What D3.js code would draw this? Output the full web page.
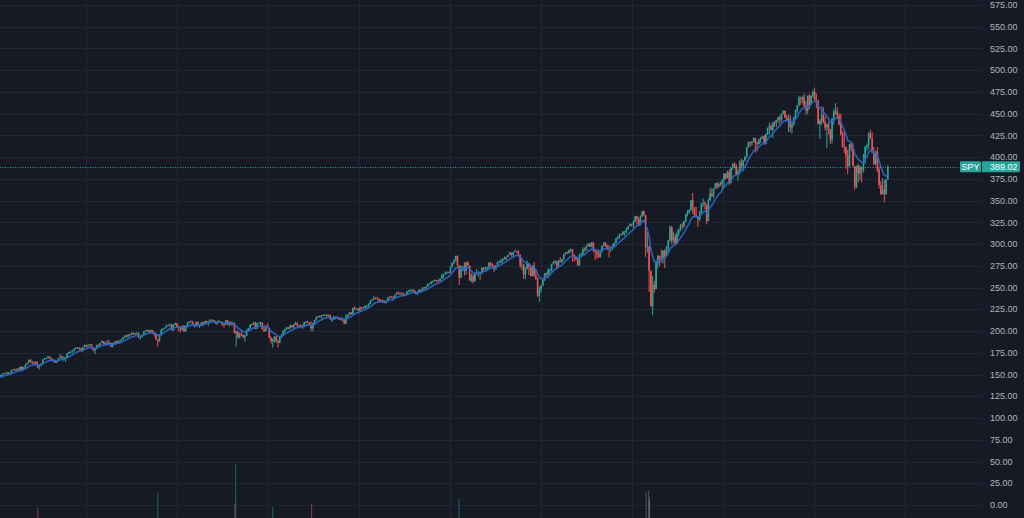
<!DOCTYPE html>
<html><head><meta charset="utf-8">
<script src="https://cdn.jsdelivr.net/npm/d3@7"></script>
<style>html,body{margin:0;padding:0;background:#161a25;overflow:hidden}</style>
</head><body><svg id="c" width="1024" height="518"></svg>
<script>
// ---------- DATA (SPY weekly) ----------
const symbol = "SPY";
const lastPrice = 389.02;
const firstWeek = "2013-01-04";   // Friday of first weekly bar
const firstOpen = 145.1;
const maPeriod = 10;              // moving-average length (weeks)
const priceTicks = d3.range(0, 576, 25);   // 0.00 … 575.00

const weekClose = [
// 2013
146.4,147.1,148.3,149.4,151.2,151.7,152.1,151.9,152.1,155.4,156.0,155.6,156.7,155.2,158.8,155.5,158.2,161.4,163.4,166.9,164.8,163.5,164.3,162.3,159.1,160.4,162.7,167.5,168.9,168.9,170.9,168.9,166.1,166.6,163.7,165.5,168.9,170.7,169.1,169.2,170.3,174.4,175.9,176.2,177.3,179.9,180.8,181.0,180.0,177.7,181.6,184.0,
// 2014
182.9,184.1,184.7,179.6,178.2,179.7,184.0,183.9,186.3,188.3,184.7,186.2,185.8,186.4,181.5,186.4,186.3,188.3,188.1,188.1,190.3,192.7,194.9,193.5,195.9,195.8,198.2,196.6,197.7,197.9,192.5,193.2,195.7,199.2,200.7,200.9,198.8,201.0,198.0,196.5,190.5,188.5,196.4,201.7,203.2,204.2,206.7,207.2,208.0,200.9,207.0,209.0,
// 2015
205.4,204.2,201.6,206.1,199.5,205.5,209.8,211.0,210.7,207.5,205.8,210.4,205.7,206.4,210.0,207.9,211.6,210.7,211.6,212.4,212.9,211.1,209.8,209.9,210.8,210.5,207.6,207.1,212.5,207.5,210.5,207.9,209.4,197.6,199.3,192.6,196.7,195.5,192.9,195.0,201.3,203.3,207.5,207.9,209.6,202.5,209.3,209.6,209.6,201.9,200.0,205.7,
// 2016
203.9,192.0,188.1,190.5,193.7,188.2,186.6,192.9,195.1,200.4,202.2,204.4,203.1,206.9,204.5,207.8,208.9,206.3,205.7,204.8,205.5,210.2,210.3,210.1,206.5,203.2,209.5,212.7,216.0,217.2,217.1,218.2,218.5,218.5,217.3,218.4,213.3,213.4,215.9,216.3,215.0,213.1,214.0,212.5,208.6,216.4,218.5,221.5,219.7,226.5,225.0,225.7,223.5,
// 2017
227.2,227.1,226.7,229.0,229.3,231.5,235.4,236.7,238.4,237.7,237.0,233.9,235.7,235.2,232.5,234.6,238.1,239.7,239.0,238.3,241.7,244.0,243.4,242.6,243.1,241.8,242.1,245.6,247.1,247.3,247.4,244.1,242.7,244.6,247.8,246.6,250.1,249.4,251.2,254.4,254.9,257.1,257.7,258.7,258.1,257.9,260.4,264.5,265.5,266.5,267.5,266.9,
// 2018
274.0,278.7,280.4,286.6,275.5,261.5,273.0,274.7,269.1,278.9,275.3,258.1,263.2,257.0,265.2,266.6,266.6,266.0,272.9,271.3,272.2,273.6,278.2,277.1,274.7,271.3,275.4,279.6,279.7,281.4,283.6,283.2,285.1,287.5,290.3,287.6,290.9,292.0,290.7,287.8,276.0,276.3,265.3,271.9,277.8,273.7,263.3,275.7,263.6,260.5,240.7,247.8,
// 2019
252.4,259.0,266.5,265.3,270.1,270.5,277.4,279.1,280.4,274.5,281.3,279.7,282.5,288.6,290.7,290.0,293.4,294.0,288.1,285.8,282.8,275.3,287.7,289.3,294.0,293.0,298.5,300.7,297.2,302.0,292.6,291.6,288.9,284.9,292.5,298.1,301.1,298.3,295.4,294.4,296.3,298.0,301.6,306.1,308.9,311.8,311.0,314.3,314.9,317.3,320.7,322.9,
// 2020
322.4,325.7,332.0,328.8,321.7,332.2,337.6,333.5,296.3,297.5,269.3,228.8,253.4,248.2,278.2,286.6,283.0,282.8,292.4,286.3,295.4,304.3,319.3,304.2,308.6,300.1,312.2,317.6,321.7,320.9,326.5,334.6,336.8,339.5,350.6,342.6,333.0,330.7,328.7,333.8,346.9,347.3,345.8,326.5,350.2,358.1,355.3,363.7,369.9,366.3,369.2,369.0,
// 2021
373.9,381.3,375.7,382.9,370.1,387.7,392.6,390.0,380.4,383.6,394.1,389.5,396.0,400.6,411.5,417.3,416.7,417.3,422.1,416.6,414.9,420.0,422.6,424.3,414.9,426.6,433.7,435.5,431.3,439.9,438.5,442.5,445.9,443.4,450.3,453.1,445.4,441.4,443.9,434.2,437.9,445.9,453.1,459.3,468.5,467.3,468.9,459.0,453.4,470.7,459.9,470.6,475.0,
// 2022
466.1,464.7,438.0,442.0,448.7,440.5,434.2,437.8,432.2,420.1,444.5,452.7,452.9,447.6,437.8,426.0,412.0,411.3,401.7,389.6,415.3,410.5,389.8,365.9,390.1,381.2,388.7,385.1,395.1,412.0,413.5,427.1,422.1,405.3,392.2,406.6,385.6,368.0,357.2,362.8,357.6,374.3,389.02
];

const weekHigh = [
// 2013
147,147.5,148.6,150,151.4,152,152.4,153.3,152.7,155.6,156.6,156.8,157,157.2,159,159.7,158.8,161.6,163.6,167,167.8,165.5,164.8,165.4,165.2,161.4,163,167.5,169.3,169.5,171,170.9,168.8,167.7,167,165.9,169,173.6,171.8,170.6,170.5,174.6,176.1,177.7,177.9,180,181.7,181.6,181.2,181,182,184.7,
// 2014
184.2,184.6,185.1,184.9,180.2,180.1,184.3,184.9,186.7,189.1,188,187,189.7,189.7,186.7,186.5,187.9,189.1,189.6,189.2,190.4,192.8,195.4,195.1,196.7,196.5,198.3,198.3,197.9,199.1,198,193.4,196.2,199.8,200.8,201.9,201.4,201.9,200.9,198.3,198.2,190.1,196.5,201.8,203.3,204.6,207.4,207.8,208.4,208.3,207.7,209.8,
// 2015
208.2,206.2,205.1,206.3,206.5,206.7,209.9,211.2,212.2,211.7,208.2,211,211.4,207,210.1,211,211.7,212.2,211.7,213.8,213.6,212.6,212.2,211.2,212.7,211.6,210.2,208.4,212.6,212.9,211.1,211.3,210.6,209.8,200.9,200.5,198.2,200.8,196.3,195.7,201.9,203.7,207.6,208.4,210.7,210.6,209.5,210.1,211,209.9,206.9,206.6,
// 2016
208.7,201.9,193.9,191.6,193.9,194.3,190.1,193.3,196.6,201.1,202.8,205.1,204.8,207.0,207.2,208.2,210.9,210.7,207.3,208,207.4,210.7,211.4,212,210.3,211.1,209.5,212.9,217,217.5,217.9,218.3,219.1,219.1,219.5,218.9,219.2,216.1,217.7,216.9,217.6,215.6,215.7,215.6,213.3,219.1,219.3,221.8,221.6,226.9,228.3,226.2,226.3,
// 2017
227.8,228,227.8,229.7,229.6,231.8,235.4,236.8,240.3,238.2,239.4,237.4,236.5,236.5,235.2,235.1,238.9,239.7,240.2,240.2,241.9,244.4,245.7,244.6,244.7,244.4,243.1,245.9,247.2,248,247.8,247.8,246.2,245.6,248.3,247.8,250.3,250.2,251.3,254.5,255.3,257.2,258.3,259.4,258.7,259.3,260.5,266.1,265.7,268.6,268.6,268.6,
// 2018
274.1,278.9,282.8,286.6,286.6,275.8,275.7,275,279.4,279,280.4,275.1,266.1,265.7,266,271.2,268.9,267.9,273,273.4,273.9,273.9,279.5,279.5,278.4,276.3,275.6,280,281.1,283.1,283.7,285.8,285.6,287.8,291.3,290.2,291,293.9,292,293.2,288.3,283.1,277.1,273.2,281.2,276.6,270.3,275.9,279.3,270.4,261.6,251,
// 2019
253.1,260,266.9,267.3,272,272,277.4,280.4,281.8,280.2,281.6,285.2,282.8,288.9,290.9,291.4,293.5,294.9,293.3,286.9,286.3,283.3,288.3,290.1,296.3,296.4,298.8,301.1,300.9,302.2,302.2,293.6,293.7,293.7,293.5,298.8,302.5,302.6,299.4,299,297.2,300,302.2,307.3,309,311.8,312,315,315.3,318.9,320.9,323.8,
// 2020
323.6,327.5,332,332.9,330.5,333,338,339.1,331,313.8,290.9,258.7,263.3,257.7,281.2,287.3,286.8,293.8,292.9,294.2,297.9,304.9,321.3,321,314.4,311.9,315.7,318,323,324.4,327,334.9,339,339.1,350.7,358.8,342.6,343.1,331.8,338.3,346.9,352.5,349.3,342.9,352.2,364.4,364.3,364.2,369.9,371.1,371.2,371.9,
// 2021
374.7,381.5,381.1,384.8,385.9,388.5,392.9,394.2,392.2,386.8,396.7,398.1,396.8,400.7,411.7,417.9,418.3,418.5,422.8,422.2,418.2,421.3,422.9,424.6,425.5,427.1,434.1,439.9,437.9,440.3,441.8,442.9,446.3,448.8,450.7,454,454,448.4,448.9,448.2,441.8,446.3,454.7,459.6,470.7,469.6,470.6,473.5,464.7,470.9,472.9,471,477.6,
// 2022
480,473.2,466,444,458.1,457.9,446.3,438.5,441.1,431.6,444.9,455.8,462.1,457.8,450.6,450,429.7,429.7,412.2,408.5,415.4,417.4,416.4,383.9,390.1,392.9,390.6,389,404,413,415.7,429,431.7,428.5,411.7,407.5,411.7,389.3,372.3,375.9,373.6,374.8,390.4
];

const weekLow = [
// 2013
144.7,145.7,146.5,148,148.6,150.4,151,149.3,150.8,152,154.8,154.2,154.2,153.6,154.8,153.6,155.6,157.4,161.6,163,163.9,162.4,160,161.9,157.4,155.7,159.3,162.5,167.2,167.6,168.5,167.9,165.8,164.8,163.3,163.3,165.4,168.9,168.4,165.5,164.5,169.5,173.6,174.4,174.6,176.6,179.2,179.2,178.5,177.2,176.4,181.6,
// 2014
181,181.3,183,179.3,176.7,173.7,179.1,182.5,182.6,186.2,184.6,183.9,184.4,184.6,181.3,181.7,184,184.9,186.3,185.9,187.9,189.7,192,192.6,193,194.6,195.1,195.7,195.4,196.8,192.4,190.2,192.6,195.6,198.6,199.5,197.8,197.4,197,193.8,189.6,181.9,187.8,194.3,200.6,202.4,204.1,206.2,204.3,200.8,200.3,206.9,
// 2015
204.4,199.3,198.6,200.8,199.3,199.8,204.8,208.4,209.9,207.1,203.8,204.9,205.5,203.5,205.7,205.6,208.3,208.4,206.4,209.6,212,211,208.2,206.9,209.5,209.9,206,204,207.3,206.9,205.6,206.1,206.6,197.4,182.4,191.8,191.6,194.4,191.9,187.8,194.4,199,202.3,206.1,207,202.5,204.3,208.4,205.3,201.9,198.7,199.9,
// 2016
203.7,191.9,185.5,181,186.8,186.8,181.1,186.1,191.8,194.5,197.7,201.5,202.1,202.6,203.9,202.8,206.6,205.3,204.4,204.3,202.8,205.1,208.7,209.6,206,199.8,199.6,206.8,211.8,215.2,215.5,214.3,217.1,217.7,216.5,216.4,213.3,210.3,213.2,213.5,214.4,212.9,212.2,211.3,207.7,208.4,215.8,218.5,218.7,220,224.3,224.9,222.7,
// 2017
222.7,225,225.5,226.4,226.8,227.9,231,234.8,235.8,236.6,236,233.1,233.6,232.3,232.1,231.6,235.5,237.5,237.8,234.7,237.9,241.2,242.5,240.9,242,240.4,240.4,241.4,244.8,245.3,245.5,243.8,242.4,241.2,243.5,244.7,246.6,248.5,248.1,250.8,253.7,253.7,255.6,256.9,255.9,255.5,257.1,259.9,260.9,264.3,265.6,266.6,
// 2018
268.8,272.8,276.8,280.8,274.4,252.9,263.3,268.8,264.1,264.7,275,257.8,256.1,254.7,258.2,265.4,262.8,258.6,267.3,269.6,268.8,270,272.3,274.2,273.6,267.7,270.5,274.9,278.5,277.6,279.2,282.4,280.9,284.8,287.9,285.6,284.7,290.7,289.7,285.7,272.8,269.4,259.9,259.9,270.5,264.5,263,262.8,262.6,258.9,239.5,233.8,
// 2019
244,251.7,257.6,261.6,260.3,263.2,268.6,276.2,276.9,272.1,273.3,279.2,278.1,281.6,287.2,288.4,288.8,290.6,279.9,279.9,280.9,275.2,276.3,286.5,287.2,291.3,293.8,296.5,296.7,296.2,290.6,281.7,283.3,284.4,285,290.3,297.5,296.2,293,284.8,290.9,293.3,297.3,300.6,305.2,306.3,309.7,311.2,309.2,312.2,316.2,321.6,
// 2020
319.9,318.1,325.8,322.5,320.9,322.2,331.1,331.8,285.5,290,244.9,228,218.3,243.9,250,272,274.8,278.6,277.7,272.6,285.9,291.2,302.7,299.7,300.8,299.5,303.5,309,314.8,317,319,325.1,331.8,334.8,338.1,334.9,331.1,330.7,319.8,326.5,333.8,342.8,340.2,322.6,327.3,350.5,354,353,365,363.3,364.5,366.9,
// 2021
362,364.8,374.8,376.5,368.3,373.4,385.6,387.5,379.7,372.9,380.1,386.4,383.9,395.3,398.8,410.6,411.6,413.1,416.7,405.3,406.7,414.7,416.3,420.9,414.7,417.4,425.6,425.6,430.9,421.97,434.8,434.6,439.8,436.4,440.8,449.3,444.9,441,428.9,428.8,427.2,436,443.8,450.6,458.2,460.3,462.1,456.4,448.9,449.6,455.2,462.9,468.2,
// 2022
464.7,456.5,437.8,420.8,436.9,438.9,430.6,410.6,425.9,415.1,416,437.4,448.9,443.5,436.4,425,411.2,405,386.7,380.5,389.2,406.8,389.7,362.2,364.3,371,373.4,371,382.5,392,406.7,409.4,421.2,405.2,391.1,390.4,382.8,364.2,357,357,348.1,356.6,376.8
];

// Volume spikes that rise into view (daily, millions of shares)
const volumeDates  = ["2013-06-20","2014-10-15","2015-08-21","2015-08-24","2016-01-20","2016-06-24","2018-02-06","2020-02-28","2020-03-09","2020-03-12","2020-03-13"];
const volumeValues = [347, 400, 360, 508, 348, 360, 378, 404, 408, 370, 385];
const volumeUp     = [false, true, false, true, true, false, true, true, false, false, true];

// ---------- CHART ----------
const W = 1024, H = 518;
const UP = "#26a69a", DOWN = "#ef5350";
const FONT = "Liberation Sans, Arial, sans-serif";
const svg = d3.select("#c");
svg.append("rect").attr("width", W).attr("height", H).attr("fill", "#161a25");

const parse = d3.timeParse("%Y-%m-%d");
const x = d3.scaleTime().domain([new Date(2013,0,1), new Date(2023,0,1)]).range([-4.5, 904.5]);
const y = d3.scaleLinear().domain([0, 575]).range([505, 5]);
const vY = d3.scaleLinear().domain([0, 508]).range([600, 464]);
const plotRight = 982;

// grid
const grid = svg.append("g").attr("stroke", "#222633").attr("stroke-width", 1);
grid.selectAll("line.h").data(priceTicks).join("line")
  .attr("x1", 0).attr("x2", plotRight)
  .attr("y1", d => Math.round(y(d)) + 0.5).attr("y2", d => Math.round(y(d)) + 0.5);
grid.selectAll("line.v").data(d3.timeYear.range(new Date(2014,0,1), new Date(2023,0,2))).join("line")
  .attr("y1", 0).attr("y2", H)
  .attr("x1", d => Math.round(x(d)) + 0.5).attr("x2", d => Math.round(x(d)) + 0.5);

// candles
const start = parse(firstWeek);
const candles = weekClose.map((c, i) => {
  const o = i === 0 ? firstOpen : weekClose[i - 1];
  const h = Math.max(weekHigh[i] ?? c, o, c);
  const l = Math.min(weekLow[i] ?? c, o, c);
  return { date: d3.timeDay.offset(start, 7 * i - 2), o, h, l, c };
});

// volume
svg.append("g").selectAll("rect").data(volumeDates.map((d, i) => ({ d: parse(d), v: volumeValues[i], up: volumeUp[i] })))
  .join("rect")
  .attr("x", d => x(d.d) - 0.5).attr("width", 1)
  .attr("y", d => vY(d.v)).attr("height", d => H - vY(d.v) + 5)
  .attr("fill", d => d.up ? UP : DOWN).attr("opacity", 0.55);

const cg = svg.append("g");
cg.selectAll("line").data(candles).join("line")
  .attr("x1", d => x(d.date)).attr("x2", d => x(d.date))
  .attr("y1", d => y(d.h)).attr("y2", d => y(d.l))
  .attr("stroke", d => d.c >= d.o ? UP : DOWN).attr("stroke-width", 1);
cg.selectAll("rect").data(candles).join("rect")
  .attr("x", d => x(d.date) - 0.8).attr("width", 1.6)
  .attr("y", d => y(Math.max(d.o, d.c)))
  .attr("height", d => Math.max(0.8, Math.abs(y(d.o) - y(d.c))))
  .attr("fill", d => d.c >= d.o ? UP : DOWN);

// moving average (EMA of weekly closes)
const k = 2 / (maPeriod + 1);
let ema = null;
const maPts = candles.map(d => { ema = ema === null ? d.c : ema + k * (d.c - ema); return { date: d.date, v: ema }; });
svg.append("path").datum(maPts)
  .attr("fill", "none").attr("stroke", "#2a66c4").attr("stroke-width", 1.6).attr("opacity", 0.95)
  .attr("d", d3.line().x(d => x(d.date)).y(d => y(d.v)));

// last price line
const ly = y(lastPrice);
svg.append("line").attr("x1", 0).attr("x2", 960).attr("y1", Math.round(ly) + 0.5).attr("y2", Math.round(ly) + 0.5)
  .attr("stroke", UP).attr("stroke-width", 1).attr("stroke-dasharray", "1,1.5");

// price axis labels
svg.append("g").selectAll("text").data(priceTicks).join("text")
  .attr("x", 990).attr("y", d => y(d)).attr("dy", "0.35em")
  .attr("fill", "#b2b5be").attr("font-family", FONT).attr("font-size", 9)
  .text(d => d3.format(".2f")(d));

// symbol + last price tags
const tag = svg.append("g");
tag.append("rect").attr("x", 960).attr("y", ly - 5.5).attr("width", 21).attr("height", 11).attr("rx", 1).attr("fill", UP);
tag.append("rect").attr("x", 982).attr("y", ly - 5.5).attr("width", 38).attr("height", 11).attr("rx", 1).attr("fill", UP);
tag.append("text").attr("x", 970.5).attr("y", ly).attr("dy", "0.35em").attr("text-anchor", "middle")
  .attr("fill", "#ffffff").attr("font-family", FONT).attr("font-size", 9).text(symbol);
tag.append("text").attr("x", 990).attr("y", ly).attr("dy", "0.35em")
  .attr("fill", "#ffffff").attr("font-family", FONT).attr("font-size", 9).text(d3.format(".2f")(lastPrice));
</script></body></html>
